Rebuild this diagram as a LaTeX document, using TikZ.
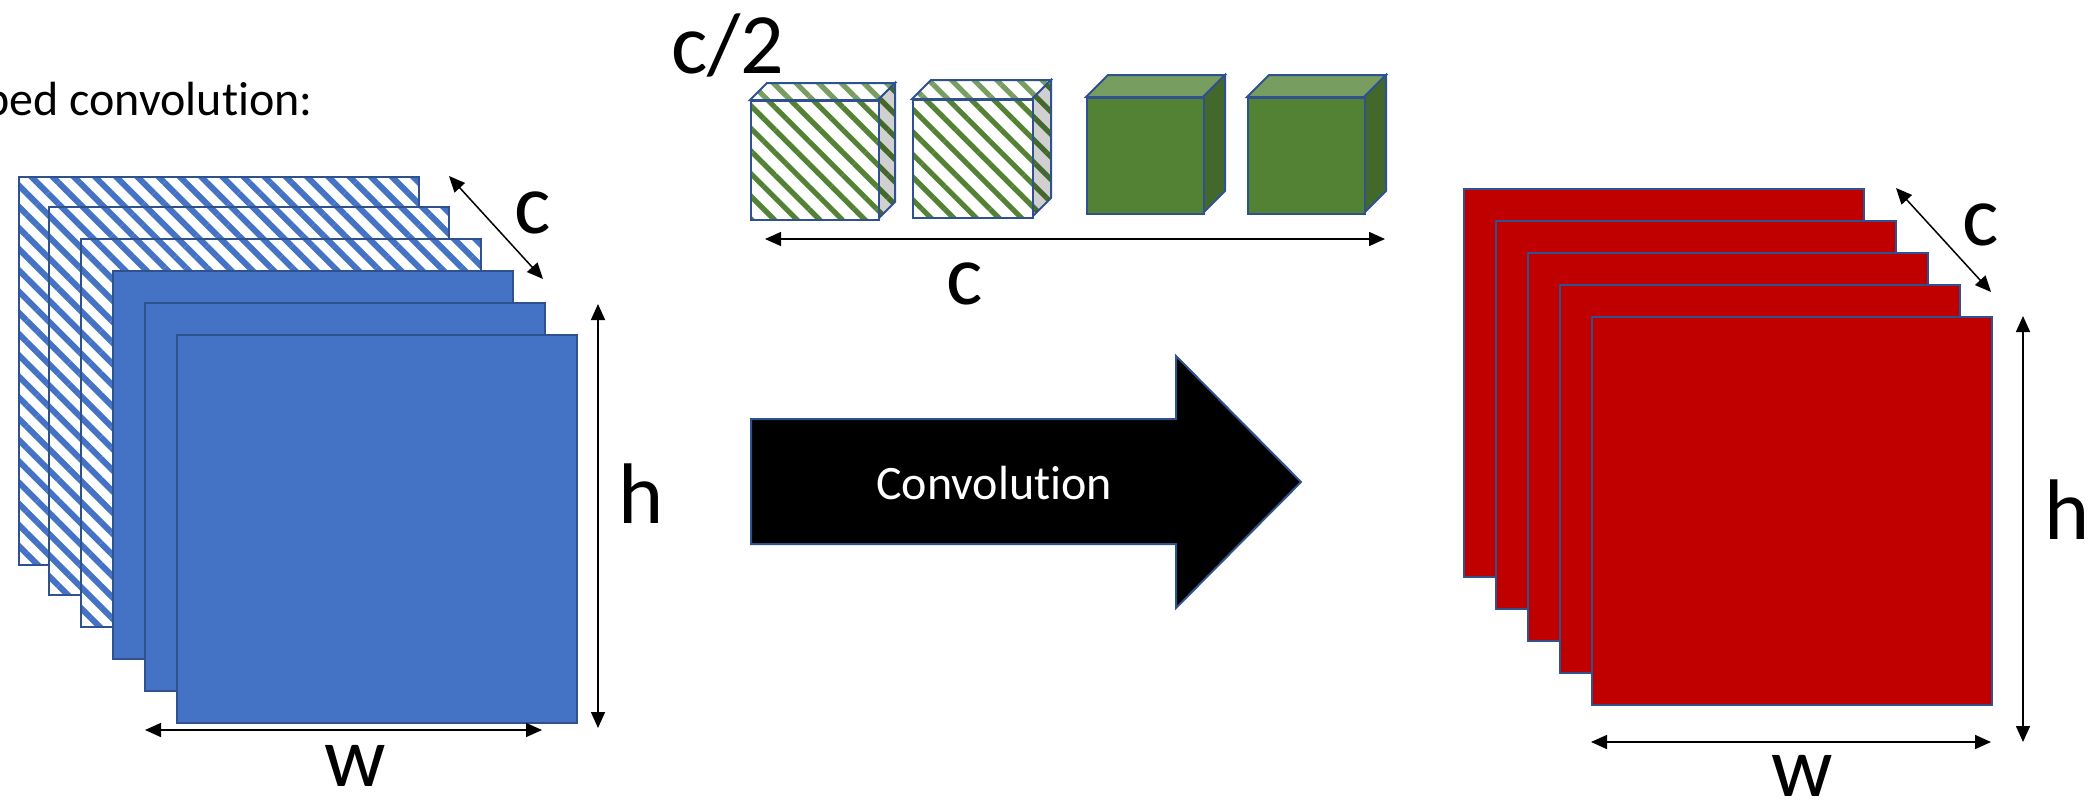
\documentclass[tikz,border=0pt]{standalone}
\usepackage{fontspec}
\setmainfont{Carlito}[Ligatures=NoCommon]
\usetikzlibrary{arrows.meta,patterns.meta}

\definecolor{sheetblue}{HTML}{4472C4}
\definecolor{edgeblue}{HTML}{2F528F}
\definecolor{sheetred}{HTML}{C00000}
\definecolor{cubegreen}{HTML}{548235}
\definecolor{cubetop}{HTML}{789D60}
\definecolor{cubeside}{HTML}{43682B}
\definecolor{cubegray}{HTML}{D0D0D0}

\begin{document}
\begin{tikzpicture}[
		x=0.5pt, y=-0.5pt,
		sheet/.style={draw=edgeblue, line width=1pt, inner sep=0pt, anchor=north west, minimum width=200pt, minimum height=194pt},
		bluesheet/.style={sheet, fill=sheetblue},
		hatchsheet/.style={sheet, preaction={fill=white}, pattern={Lines[angle=-45,distance=7.5pt,line width=3pt]}, pattern color=sheetblue},
		redsheet/.style={sheet, fill=sheetred},
		face/.style={draw=edgeblue, line width=1pt},
		cubefront/.style={face, inner sep=0pt, anchor=north west},
		hatchfront/.style={preaction={fill=white}, pattern={Lines[angle=-45,distance=8pt,line width=2.6pt]}, pattern color=cubegreen},
		hatchtop/.style={preaction={fill=white}, pattern={Lines[angle=-45,distance=8pt,line width=2.6pt]}, pattern color=cubetop},
		hatchside/.style={preaction={fill=cubegray}, pattern={Lines[angle=-45,distance=8pt,line width=2.6pt]}, pattern color=cubeside},
		dim/.style={{Triangle[length=8pt,width=7pt]}-{Triangle[length=8pt,width=7pt]}, line width=0.75pt},
		dimlabel/.style={font=\fontsize{43}{50}\selectfont, inner sep=0pt},
		textfont/.style={font=\fontsize{24}{28}\selectfont}
		]
		
		\useasboundingbox (0,0) rectangle (2090,803);
		\clip (0,0) rectangle (2090,803);
		
		\node[textfont, anchor=base east, inner sep=0pt] (title) at (313,115) {Grouped convolution:};
		
		% input feature maps
		\foreach \i in {0,1,2}
			\node[hatchsheet] (in\i) at ({16+32*\i},{174+32*\i}) {};
		\foreach \i in {3,4,5}
			\node[bluesheet] (in\i) at ({16+32*\i},{174+32*\i}) {};
		
		\coordinate (inc0) at (449,176);
		\coordinate (inc1) at (543,279);
		\coordinate (inh0) at (598,304);
		\coordinate (inh1) at (598,728);
		\coordinate (inw0) at (145,730);
		\coordinate (inw1) at (542,730);
		\draw[dim] (inc0) -- (inc1);
		\draw[dim] (inh0) -- (inh1);
		\draw[dim] (inw0) -- (inw1);
		\node[dimlabel] (inclabel) at (533,213) {c};
		\node[dimlabel] (inhlabel) at (641,494) {h};
		\node[dimlabel] (inwlabel) at (355,766) {w};
		
		% kernels
		\foreach \x/\y/\w/\h/\d [count=\i] in {750/100/128/119/17, 912/99/120/118/19} {
			\draw[face, hatchtop] (\x,\y) -- ++(\d,-\d) -- ++(\w,0) -- ++(-\d,\d) -- cycle;
			\draw[face, hatchside] (\x+\w,\y) -- ++(\d,-\d) -- ++(0,\h) -- ++(-\d,\d) -- cycle;
			\node[cubefront, hatchfront, minimum width={\w*0.5pt}, minimum height={\h*0.5pt}] (grp\i) at (\x,\y) {};
		}
		\foreach \x/\y/\w/\h/\d [count=\i from 3] in {1086/97/117/116/22, 1247/97/117/116/22} {
			\draw[face, fill=cubetop] (\x,\y) -- ++(\d,-\d) -- ++(\w,0) -- ++(-\d,\d) -- cycle;
			\draw[face, fill=cubeside] (\x+\w,\y) -- ++(\d,-\d) -- ++(0,\h) -- ++(-\d,\d) -- cycle;
			\node[cubefront, fill=cubegreen, minimum width={\w*0.5pt}, minimum height={\h*0.5pt}] (grp\i) at (\x,\y) {};
		}
		\node[dimlabel] (half) at (728,45) {c/2};
		\coordinate (grpc0) at (765,239);
		\coordinate (grpc1) at (1385,239);
		\draw[dim] (grpc0) -- (grpc1);
		\node[dimlabel] (grpclabel) at (965,284) {c};
		
		% convolution arrow
		\filldraw[fill=black, draw=edgeblue, line width=1pt] (751,419) -- (1176,419) -- (1176,356) -- (1301,482) -- (1176,608) -- (1176,544) -- (751,544) -- cycle;
		\node[textfont, text=white] (conv) at (994,483) {Convolution};
		
		% output feature maps
		\foreach \i in {0,...,4}
			\node[redsheet] (out\i) at ({1463+32*\i},{188+32*\i}) {};
		
		\coordinate (outc0) at (1896,188);
		\coordinate (outc1) at (1991,292);
		\coordinate (outh0) at (2023,316);
		\coordinate (outh1) at (2023,742);
		\coordinate (outw0) at (1591,742);
		\coordinate (outw1) at (1991,742);
		\draw[dim] (outc0) -- (outc1);
		\draw[dim] (outh0) -- (outh1);
		\draw[dim] (outw0) -- (outw1);
		\node[dimlabel] (outclabel) at (1981,225) {c};
		\node[dimlabel] (outhlabel) at (2067,510) {h};
		\node[dimlabel] (outwlabel) at (1802,776) {w};
		
	\end{tikzpicture}
\end{document}
